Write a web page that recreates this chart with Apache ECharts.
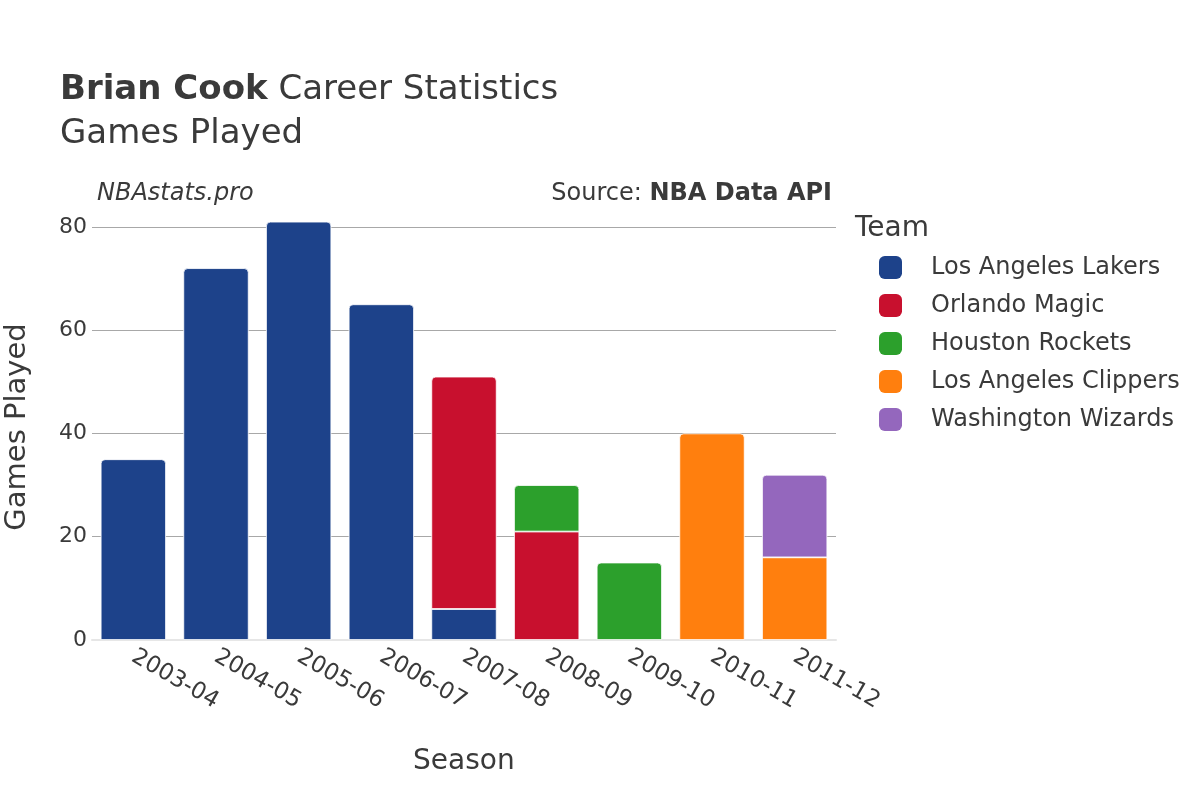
<!DOCTYPE html>
<html>
<head>
<meta charset="utf-8">
<script src="https://cdn.jsdelivr.net/npm/echarts@6/dist/echarts.min.js"></script>
<style>
html,body{margin:0;padding:0;background:#fff;}
#chart{width:1200px;height:800px;}
</style>
</head>
<body>
<div id="chart"></div>
<script>
const seasons = ['2003-04','2004-05','2005-06','2006-07','2007-08','2008-09','2009-10','2010-11','2011-12'];
const teams = ['Los Angeles Lakers','Orlando Magic','Houston Rockets','Los Angeles Clippers','Washington Wizards'];
const teamColors = ['#1d428a','#c8102e','#2ca02c','#ff7f0e','#9467bd'];
const lakers   = [35, 72, 81, 65, 6, null, null, null, null];
const magic    = [null, null, null, null, 45, 21, null, null, null];
const rockets  = [null, null, null, null, null, 9, 15, null, null];
const clippers = [null, null, null, null, null, null, null, 40, 16];
const wizards  = [null, null, null, null, null, null, null, null, 16];
const yTicks = [0, 20, 40, 60, 80];

const seriesValues = [lakers, magic, rockets, clippers, wizards];
const FONT = 'DejaVu Sans';
const TXT = '#3a3a3a';

// top segment per category
const topIdx = seasons.map((s, c) => {
  let t = -1;
  seriesValues.forEach((arr, i) => { if (arr[c] != null) t = i; });
  return t;
});

const series = teams.map((name, i) => ({
  name: name,
  type: 'bar',
  stack: 'gp',
  barCategoryGap: '21%',
  itemStyle: { color: teamColors[i], borderColor: '#fff', borderWidth: 0.8 },
  data: seriesValues[i].map((v, c) => v == null ? null : {
    value: v,
    itemStyle: { borderRadius: topIdx[c] === i ? [4, 4, 0, 0] : 0 }
  })
}));

const chart = echarts.init(document.getElementById('chart'), null, { renderer: 'canvas' });
chart.setOption({
  animation: false,
  backgroundColor: '#fff',
  textStyle: { fontFamily: FONT, color: TXT },
  grid: { left: 92, right: 364, top: 201, bottom: 160, containLabel: false },
  xAxis: {
    type: 'category',
    data: seasons,
    axisTick: { show: false },
    axisLine: { show: true, lineStyle: { color: '#e6e6e6', width: 2 } },
    axisLabel: { rotate: -30, margin: 15, fontSize: 23, color: TXT, fontFamily: FONT, interval: 0 }
  },
  yAxis: {
    type: 'value',
    min: 0, max: 85, interval: 5,
    axisLine: { show: false },
    axisTick: { show: false },
    axisLabel: {
      fontSize: 22, color: TXT, fontFamily: FONT, margin: 5,
      formatter: v => (yTicks.indexOf(v) >= 0 ? String(v) : '')
    },
    splitLine: { show: true, lineStyle: { color: ['#a8a8a8', 'rgba(0,0,0,0)', 'rgba(0,0,0,0)', 'rgba(0,0,0,0)'], width: 1 } }
  },
  legend: {
    orient: 'vertical',
    left: 879, top: 255.5,
    padding: 0,
    itemWidth: 23, itemHeight: 23, itemGap: 14,
    icon: 'roundRect',
    itemStyle: { borderWidth: 0 },
    textStyle: { fontSize: 24, lineHeight: 23, color: TXT, fontFamily: FONT, padding: [0, 0, 0, 24] },
    data: teams
  },
  graphic: [
    { type: 'text', left: 60, top: 73, style: {
        text: '{b|Brian Cook}{n| Career Statistics}',
        rich: {
          b: { fontSize: 34, fontWeight: 'bold', fontFamily: FONT, fill: TXT },
          n: { fontSize: 34, fontFamily: FONT, fill: TXT }
        } } },
    { type: 'text', left: 60, top: 117, style: { text: 'Games Played', fontSize: 34, fontFamily: FONT, fill: TXT } },
    { type: 'text', left: 97, top: 182, style: { text: 'NBAstats.pro', fontSize: 24, fontStyle: 'italic', fontFamily: FONT, fill: TXT } },
    { type: 'text', right: 368, top: 182, style: {
        text: '{n|Source: }{b|NBA Data API}',
        rich: {
          n: { fontSize: 24, fontFamily: FONT, fill: TXT },
          b: { fontSize: 24, fontWeight: 'bold', fontFamily: FONT, fill: TXT }
        } } },
    { type: 'text', left: 855, top: 215, style: { text: 'Team', fontSize: 28, fontFamily: FONT, fill: TXT } },
    { type: 'text', left: 413, top: 748, style: { text: 'Season', fontSize: 28, fontFamily: FONT, fill: TXT } },
    { type: 'text', x: 17, y: 427, rotation: Math.PI / 2, style: { text: 'Games Played', fontSize: 29, fontFamily: FONT, fill: TXT, align: 'center', verticalAlign: 'middle' } }
  ],
  series: series
});
</script>
</body>
</html>
